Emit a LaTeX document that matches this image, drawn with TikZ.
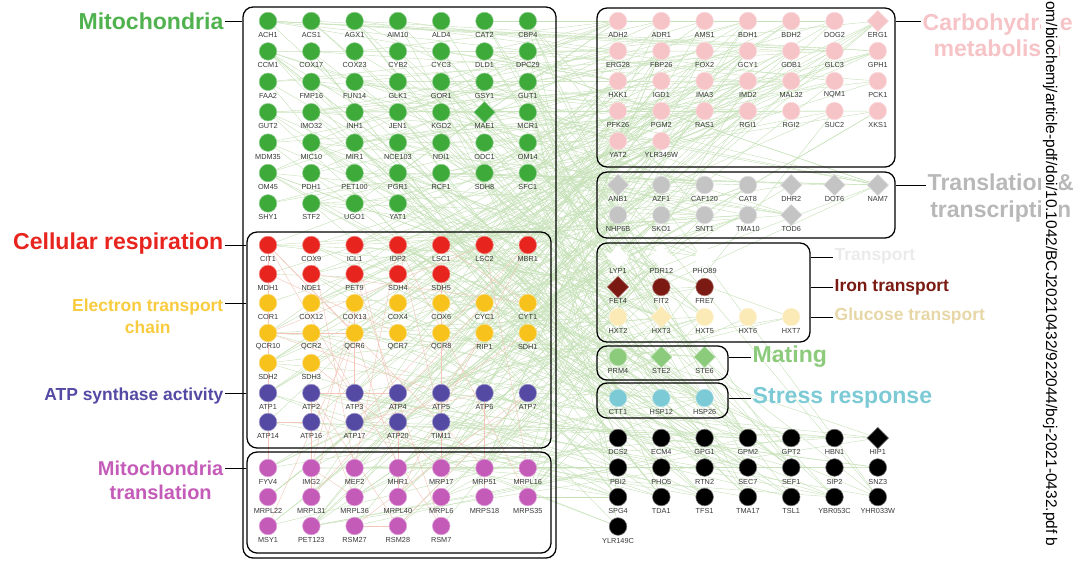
\documentclass[tikz,border=0pt]{standalone}
\usepackage{fontspec}
\setmainfont{Liberation Sans}
\usepackage{tikz}
\usetikzlibrary{shapes.geometric}
\usetikzlibrary{fit}
\usetikzlibrary{backgrounds}

\definecolor{mitogreen}{HTML}{3DAA3A}
\definecolor{respred}{HTML}{E8241F}
\definecolor{etcyellow}{HTML}{F8C21C}
\definecolor{atpblue}{HTML}{544AA3}
\definecolor{transmag}{HTML}{C45BB9}
\definecolor{carbpink}{HTML}{F6C3C7}
\definecolor{txgray}{HTML}{C4C4C4}
\definecolor{irondark}{HTML}{7A1A12}
\definecolor{glucyellow}{HTML}{FBEAB5}
\definecolor{matinggreen}{HTML}{8DCB7C}
\definecolor{stresscyan}{HTML}{7CCAD5}
\definecolor{webgreen}{HTML}{C6E1B8}
\definecolor{webpink}{HTML}{F2C6B8}

\tikzset{
  gene/.style={circle, fill=#1, draw=#1!55!white, line width=.4pt, minimum size=.44cm, inner sep=0pt},
  dia/.style={diamond, minimum size=.54cm},
  lab/.style={font=\fontsize{5.2}{6}\selectfont, text=black!78, inner sep=0pt},
  grp/.style={inner sep=0pt, draw, line width=.9pt, rounded corners=.25cm},
  tie/.style={line width=.6pt},
  big/.style={font=\fontsize{16.4}{18.6}\selectfont\bfseries, inner sep=1pt},
  mid/.style={font=\fontsize{12.4}{15.6}\selectfont\bfseries, inner sep=1pt},
  web/.style={webgreen, line width=.3pt},
  dia MAE1/.style=dia, dia ERG1/.style=dia, dia ANB1/.style=dia, dia DHR2/.style=dia,
  dia DOT6/.style=dia, dia NAM7/.style=dia, dia TOD6/.style=dia, dia LYP1/.style=dia,
  dia PDR12/.style=dia, dia FET4/.style=dia, dia HXT3/.style=dia, dia STE2/.style=dia,
  dia STE6/.style=dia, dia HIP1/.style=dia
}

% colour, first x, first y, row step, alias prefix, alias offset, genes
\newcommand{\genegroup}[7]{%
  \foreach \g [count=\i from 0] in {#7} {
    \pgfmathsetmacro\cx{#2+43.3*mod(\i,7)}
    \pgfmathsetmacro\cy{#3+#4*floor(\i/7)}
    \pgfmathtruncatemacro\k{#6+\i}
    \node[gene=#1, dia \g/.try, alias=#5\k] (\g) at (\cx,\cy) {};
    \node[lab] (\g-txt) at (\cx,\cy+14) {\g};
  }}

\begin{document}
\begin{tikzpicture}[x=.025cm,y=-.025cm]
\useasboundingbox (0,0) rectangle (1083,562);

% left panel
\genegroup{mitogreen}{268}{21}{30.4}{L}{0}{ACH1,ACS1,AGX1,AIM10,ALD4,CAT2,CBP4,
  CCM1,COX17,COX23,CYB2,CYC3,DLD1,DPC29,FAA2,FMP16,FUN14,GLK1,GOR1,GSY1,GUT1,
  GUT2,IMO32,INH1,JEN1,KGD2,MAE1,MCR1,MDM35,MIC10,MIR1,NCE103,NDI1,ODC1,OM14,
  OM45,PDH1,PET100,PGR1,RCF1,SDH8,SFC1,SHY1,STF2,UGO1,YAT1}
\genegroup{respred}{268}{245}{29}{L}{46}{CIT1,COX9,ICL1,IDP2,LSC1,LSC2,MBR1,
  MDH1,NDE1,PET9,SDH4,SDH5}
\genegroup{etcyellow}{268}{303}{30}{L}{58}{COR1,COX12,COX13,COX4,COX6,CYC1,CYT1,
  QCR10,QCR2,QCR6,QCR7,QCR8,RIP1,SDH1,SDH2,SDH3}
\genegroup{atpblue}{268}{393}{29}{L}{74}{ATP1,ATP2,ATP3,ATP4,ATP5,ATP6,ATP7,
  ATP14,ATP16,ATP17,ATP20,TIM11}
\genegroup{transmag}{268}{468}{29}{L}{86}{FYV4,IMG2,MEF2,MHR1,MRP17,MRP51,MRPL16,
  MRPL22,MRPL31,MRPL36,MRPL40,MRPL6,MRPS18,MRPS35,MSY1,PET123,RSM27,RSM28,RSM7}

% right panel
\genegroup{carbpink}{618}{21}{30}{R}{0}{ADH2,ADR1,AMS1,BDH1,BDH2,DOG2,ERG1,
  ERG28,FBP26,FOX2,GCY1,GDB1,GLC3,GPH1,HXK1,IGD1,IMA3,IMD2,MAL32,NQM1,PCK1,
  PFK26,PGM2,RAS1,RGI1,RGI2,SUC2,XKS1,YAT2,YLR345W}
\genegroup{txgray}{618}{185}{30}{R}{30}{ANB1,AZF1,CAF120,CAT8,DHR2,DOT6,NAM7,
  NHP6B,SKO1,SNT1,TMA10,TOD6}
\genegroup{white}{618}{257}{30}{R}{42}{LYP1,PDR12,PHO89}
\genegroup{irondark}{618}{287}{30}{R}{45}{FET4,FIT2,FRE7}
\genegroup{glucyellow}{618}{317}{30}{R}{48}{HXT2,HXT3,HXT5,HXT6,HXT7}
\genegroup{matinggreen}{618}{357}{30}{R}{53}{PRM4,STE2,STE6}
\genegroup{stresscyan}{618}{398}{30}{R}{56}{CTT1,HSP12,HSP26}
\genegroup{black}{618}{438}{29.5}{R}{59}{DCS2,ECM4,GPG1,GPM2,GPT2,HBN1,HIP1,
  PBI2,PHO5,RTN2,SEC7,SEF1,SIP2,SNZ3,SPG4,TDA1,TFS1,TMA17,TSL1,YBR053C,YHR033W,
  YLR149C}

% boxes
\node[grp, fit={(243,7) (556,558)}] (mitobox) {};
\node[grp, fit={(247,232) (551,448)}] (respbox) {};
\node[grp, fit={(247,452) (551,553)}] (mtransbox) {};
\node[grp, fit={(597,8) (895,167)}] (carbbox) {};
\node[grp, fit={(597,172) (895,238)}] (txbox) {};
\node[grp, fit={(597,243) (810,342)}] (portbox) {};
\node[grp, fit={(597,346) (728,380)}] (matebox) {};
\node[grp, fit={(597,383) (728,418)}] (stressbox) {};

% group names
\node[big, text=mitogreen!90!white, anchor=east] (mitolab) at (225,21) {Mitochondria};
\node[big, text=respred, anchor=east] (resplab) at (225,244) {Cellular respiration};
\node[mid, text=etcyellow!85!white, anchor=east, align=center] (etclab) at (225,316) {Electron transport\\chain};
\node[mid, text=atpblue, anchor=east] (atplab) at (225,396) {ATP synthase activity};
\node[big, font=\fontsize{14.2}{17}\selectfont\bfseries, text=transmag, anchor=east, align=center] (mtranslab) at (225,480) {Mitochondria\\translation};
\node[big, text=carbpink, anchor=west, align=center] (carblab) at (921,35) {Carbohydrate\\metabolism};
\node[big, text=black!28, anchor=west, align=center] (txlab) at (926,198) {Translation \&\\transcription};
\node[mid, text=black!8, anchor=west] (portlab) at (833,256) {Transport};
\node[mid, text=irondark, anchor=west] (ironlab) at (833,287) {Iron transport};
\node[mid, text=glucyellow!92!black, anchor=west] (gluclab) at (833,316) {Glucose transport};
\node[big, text=matinggreen, anchor=west] (matelab) at (751,357) {Mating};
\node[big, text=stresscyan, anchor=west] (stresslab) at (751,398) {Stress response};

\draw[tie] (mitolab.east |- ACH1) -- (mitobox.west |- ACH1);
\draw[tie] (resplab.east |- CIT1) -- (respbox.west |- CIT1);
\draw[tie] (etclab.east |- COR1) -- (respbox.west |- COR1);
\draw[tie] (atplab.east |- ATP1) -- (respbox.west |- ATP1);
\draw[tie] (mtranslab.east |- FYV4) -- (mtransbox.west |- FYV4);
\draw[tie] (carbbox.east |- ADH2) -- (carblab.west |- ADH2);
\draw[tie] (txbox.east |- ANB1) -- (txlab.west |- ANB1);
\draw[tie] (portbox.east |- LYP1) -- (portlab.west |- LYP1);
\draw[tie] (portbox.east |- FET4) -- (ironlab.west |- FET4);
\draw[tie] (portbox.east |- HXT2) -- (gluclab.west |- HXT2);
\draw[tie] (matebox.east |- PRM4) -- (matelab.west |- PRM4);
\draw[tie] (stressbox.east |- CTT1) -- (stresslab.west |- CTT1);

\node[rotate=-90, anchor=west, fill=white, inner xsep=0pt, inner ysep=1.5pt, font=\fontsize{11}{12}\selectfont] (doi) at (1050,1) {om/biochemj/article-pdf/doi/10.1042/BCJ20210432/922044/bcj-2021-0432.pdf b};

% interaction web
\begin{pgfonlayer}{background}
\pgfmathsetseed{2021}
\foreach \e in {1,...,430} {
  \pgfmathtruncatemacro\a{random(0,104)}
  \pgfmathtruncatemacro\b{random(0,80)}
  \draw[web] (L\a) -- (R\b);
}
\foreach \e in {1,...,45} {
  \pgfmathtruncatemacro\a{random(46,104)}
  \pgfmathtruncatemacro\b{random(46,104)}
  \draw[web, webpink] (L\a) -- (L\b);
}
\end{pgfonlayer}
\end{tikzpicture}
\end{document}
